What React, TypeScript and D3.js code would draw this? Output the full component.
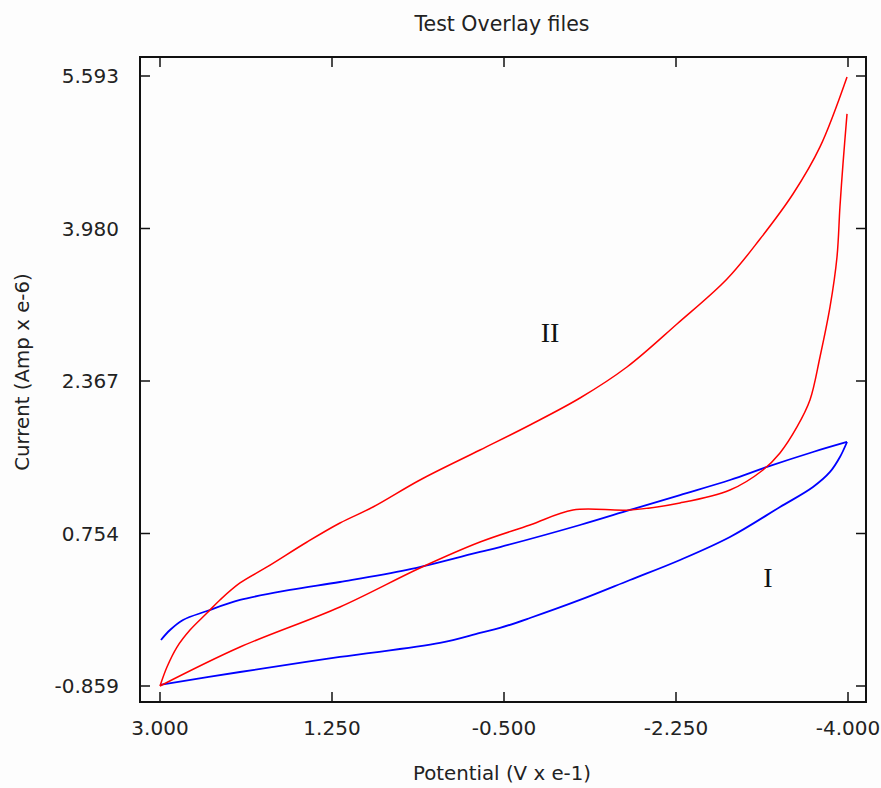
import React from "react";
import * as d3 from "d3";

const title = "Test Overlay files";
const xLabel = "Potential (V x e-1)";
const yLabel = "Current (Amp x e-6)";

const xTicks = [3.0, 1.25, -0.5, -2.25, -4.0];
const xTickLabels = ["3.000", "1.250", "-0.500", "-2.250", "-4.000"];
const yTicks = [-0.859, 0.754, 2.367, 3.98, 5.593];
const yTickLabels = ["-0.859", "0.754", "2.367", "3.980", "5.593"];

// Curve I (blue): forward scan
const curveIForward: [number, number][] = [
  [2.990, -0.372], [2.898, -0.267], [2.766, -0.161], [2.522, -0.066], [2.186, 0.051],
  [1.677, 0.157], [1.169, 0.241], [0.487, 0.368], [-0.256, 0.559], [-0.459, 0.611],
  [-1.273, 0.844], [-1.782, 1.003], [-2.291, 1.161], [-2.799, 1.320], [-3.176, 1.458],
  [-3.644, 1.616], [-3.990, 1.722],
];
// Curve I (blue): return scan
const curveIReturn: [number, number][] = [
  [-3.990, 1.722],
  [-3.918, 1.563], [-3.817, 1.405], [-3.644, 1.246], [-3.308, 1.034], [-2.799, 0.717],
  [-2.291, 0.474], [-1.782, 0.262], [-1.273, 0.051], [-0.764, -0.140], [-0.459, -0.245],
  [-0.256, -0.298], [0.151, -0.404], [1.169, -0.552], [2.186, -0.711], [3.000, -0.848],
];

// Curve II (red): lower branch
const curveIILower: [number, number][] = [
  [-3.990, 5.192], [-3.949, 4.663], [-3.918, 4.208], [-3.888, 3.679], [-3.817, 3.150],
  [-3.715, 2.621], [-3.613, 2.166], [-3.481, 1.881], [-3.308, 1.606], [-3.135, 1.426],
  [-2.799, 1.214], [-2.291, 1.077], [-1.782, 1.003], [-1.202, 1.003], [-0.764, 0.844],
  [-0.256, 0.664], [0.355, 0.389], [1.169, -0.023], [2.186, -0.447], [3.000, -0.859],
];
// Curve II (red): upper branch
const curveIIUpper: [number, number][] = [
  [3.000, -0.859],
  [2.929, -0.658], [2.827, -0.447], [2.695, -0.267], [2.522, -0.087], [2.390, 0.051],
  [2.186, 0.231], [1.911, 0.400], [1.504, 0.664], [1.169, 0.865], [0.833, 1.034],
  [0.355, 1.320], [-0.256, 1.637], [-0.764, 1.902], [-1.273, 2.187], [-1.751, 2.515],
  [-2.260, 2.970], [-2.769, 3.446], [-3.105, 3.869], [-3.440, 4.345], [-3.715, 4.843],
  [-3.990, 5.583],
];

const annotations = [
  { text: "II", x: -0.968, y: 2.78 },
  { text: "I", x: -3.186, y: 0.185 },
];

export default function App() {
  const W = 881, H = 788;
  const left = 140, right = 866, top = 57, bottom = 702;
  const x = d3.scaleLinear().domain([3, -4]).range([160, 848]);
  const y = d3.scaleLinear().domain([-0.859, 5.593]).range([686, 76]);
  const line = d3
    .line<[number, number]>()
    .x((d) => x(d[0]))
    .y((d) => y(d[1]))
    .curve(d3.curveCatmullRom.alpha(0.5));
  const sans = "'DejaVu Sans', sans-serif";
  const tickLen = 10;
  return (
    <svg
      width={W}
      height={H}
      style={{ position: "absolute", left: 0, top: 0, background: "#fdfdfd" }}
    >
      <rect x={0} y={0} width={W} height={H} fill="#fdfdfd" />
      <text x={502} y={31} textAnchor="middle" fontFamily={sans} fontSize={20.5} fill="#222">
        {title}
      </text>
      {/* curves */}
      {[curveIForward, curveIReturn].map((c, i) => (
        <path key={"b" + i} d={line(c) || ""} fill="none" stroke="#0000ff" strokeWidth={1.8} strokeLinejoin="round" />
      ))}
      {[curveIILower, curveIIUpper].map((c, i) => (
        <path key={"r" + i} d={line(c) || ""} fill="none" stroke="#ff0000" strokeWidth={1.5} strokeLinejoin="round" />
      ))}
      {/* frame */}
      <rect x={left} y={top} width={right - left} height={bottom - top} fill="none" stroke="#111" strokeWidth={2} />
      {xTicks.map((t, i) => (
        <g key={"xt" + i}>
          <line x1={x(t)} x2={x(t)} y1={bottom} y2={bottom - tickLen} stroke="#111" strokeWidth={1.5} />
          <line x1={x(t)} x2={x(t)} y1={top} y2={top + tickLen} stroke="#111" strokeWidth={1.5} />
          <text x={x(t)} y={735} textAnchor="middle" fontFamily={sans} fontSize={20} fill="#222">
            {xTickLabels[i]}
          </text>
        </g>
      ))}
      {yTicks.map((t, i) => (
        <g key={"yt" + i}>
          <line x1={left} x2={left + tickLen} y1={y(t)} y2={y(t)} stroke="#111" strokeWidth={1.5} />
          <line x1={right} x2={right - tickLen} y1={y(t)} y2={y(t)} stroke="#111" strokeWidth={1.5} />
          <text x={119} y={y(t)} dy="0.36em" textAnchor="end" fontFamily={sans} fontSize={20} fill="#222">
            {yTickLabels[i]}
          </text>
        </g>
      ))}
      <text x={502} y={780} textAnchor="middle" fontFamily={sans} fontSize={19.8} fill="#222">
        {xLabel}
      </text>
      <text
        transform={`translate(29,372) rotate(-90)`}
        textAnchor="middle"
        fontFamily={sans}
        fontSize={19.8}
        fill="#222"
      >
        {yLabel}
      </text>
      {annotations.map((a, i) => (
        <text
          key={"an" + i}
          x={x(a.x)}
          y={y(a.y)}
          textAnchor="middle"
          fontFamily="'Liberation Serif', 'DejaVu Serif', serif"
          fontSize={28}
          fill="#111"
        >
          {a.text}
        </text>
      ))}
    </svg>
  );
}
